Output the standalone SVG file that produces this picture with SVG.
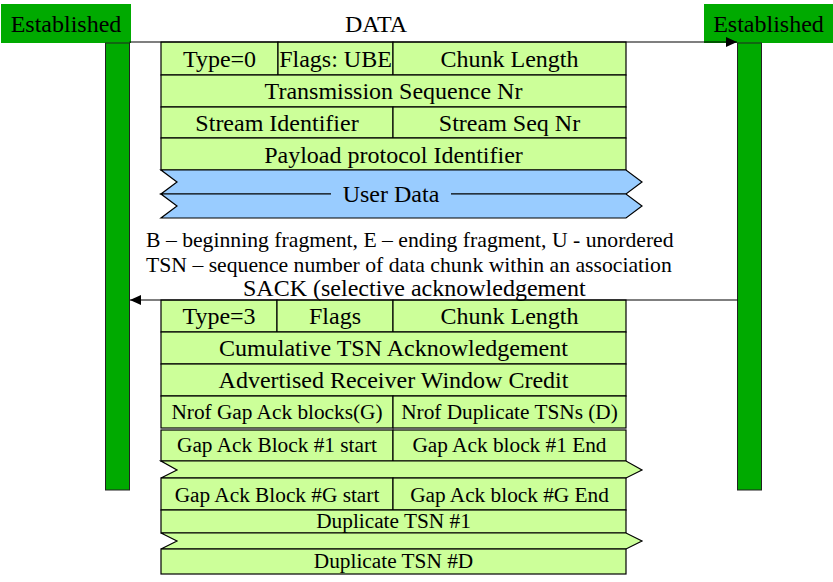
<svg xmlns="http://www.w3.org/2000/svg" width="833" height="582" viewBox="0 0 833 582">
<defs>
<style>
text{font-family:"Liberation Serif","Times New Roman",serif;fill:#000}
.t24{font-size:24px}
.t21{font-size:21.3px}
.tn{font-size:21.7px}
.c{text-anchor:middle}
.est{fill:#00aa00}
.bar{fill:#00aa00;stroke:#222;stroke-width:1}
.g{fill:#ccff99;stroke:#000;stroke-width:1.2}
.b{fill:#99ccff;stroke:#000;stroke-width:1.2}
.ln{stroke:#000;stroke-width:1.2;fill:none}
</style>
<marker id="ah" markerWidth="11" markerHeight="10" refX="11" refY="5" orient="auto" markerUnits="userSpaceOnUse">
<path d="M0,0 L11,5 L0,10 Z" fill="#000"/>
</marker>
</defs>
<rect width="833" height="582" fill="#fff"/>

<g id="left-endpoint">
<rect class="est" x="1" y="4" width="130" height="39"/>
<rect class="bar" x="105.5" y="43" width="24" height="447"/>
<text class="t24 c" x="66" y="32">Established</text>
</g>
<g id="right-endpoint">
<rect class="est" x="704" y="4" width="129" height="39"/>
<rect class="bar" x="737.5" y="43" width="24" height="447"/>
<text class="t24 c" x="768.5" y="32">Established</text>
</g>

<g id="data-chunk">
<rect class="g" x="161" y="42" width="117" height="33"/>
<rect class="g" x="278" y="42" width="115" height="33"/>
<rect class="g" x="393" y="42" width="233" height="33"/>
<rect class="g" x="161" y="75" width="465" height="32"/>
<rect class="g" x="161" y="107" width="232" height="31"/>
<rect class="g" x="393" y="107" width="233" height="31"/>
<rect class="g" x="161" y="138" width="465" height="32"/>
<polygon class="b" points="161,170 626,170 642,182 626,194 161,194 177,182"/>
<polygon class="b" points="161,194 626,194 642,206 626,218 161,218 177,206"/>
<rect x="331" y="188" width="120" height="12" fill="#99ccff"/>
<text class="t24 c" x="219.5" y="66.5">Type=0</text>
<text class="t24 c" x="335.5" y="66.5">Flags: UBE</text>
<text class="t24 c" x="509.5" y="66.5">Chunk Length</text>
<text class="t24 c" x="393.5" y="99">Transmission Sequence Nr</text>
<text class="t24 c" x="277" y="131">Stream Identifier</text>
<text class="t24 c" x="509.5" y="131">Stream Seq Nr</text>
<text class="t24 c" x="393.5" y="163">Payload protocol Identifier</text>
<text class="t24 c" x="391" y="202">User Data</text>
</g>

<g id="notes">
<text class="tn" x="146" y="247">B – beginning fragment, E – ending fragment, U - unordered</text>
<text class="tn" x="146" y="272">TSN – sequence number of data chunk within an association</text>
</g>

<g id="sack-chunk">
<rect class="g" x="161" y="300" width="116" height="32"/>
<rect class="g" x="277" y="300" width="116" height="32"/>
<rect class="g" x="393" y="300" width="233" height="32"/>
<rect class="g" x="161" y="332" width="465" height="32"/>
<rect class="g" x="161" y="364" width="465" height="32"/>
<rect class="g" x="161" y="396" width="232" height="32"/>
<rect class="g" x="393" y="396" width="233" height="32"/>
<rect class="g" x="161" y="430" width="232" height="31"/>
<rect class="g" x="393" y="430" width="233" height="31"/>
<polygon class="g" points="161,461 626,461 642,470 626,478 161,478 177,470"/>
<rect class="g" x="161" y="478" width="232" height="32"/>
<rect class="g" x="393" y="478" width="233" height="32"/>
<rect class="g" x="161" y="510" width="465" height="23"/>
<polygon class="g" points="161,533 626,533 642,541 626,549 161,549 177,541"/>
<rect class="g" x="161" y="549" width="465" height="25"/>
<text class="t24 c" x="219" y="324">Type=3</text>
<text class="t24 c" x="335" y="324">Flags</text>
<text class="t24 c" x="509.5" y="324">Chunk Length</text>
<text class="t24 c" x="393.5" y="356">Cumulative TSN Acknowledgement</text>
<text class="t24 c" x="393.5" y="388">Advertised Receiver Window Credit</text>
<text class="t21 c" x="277" y="419">Nrof Gap Ack blocks(G)</text>
<text class="t21 c" x="509.5" y="419">Nrof Duplicate TSNs (D)</text>
<text class="t21 c" x="277" y="452">Gap Ack Block #1 start</text>
<text class="t21 c" x="509.5" y="452">Gap Ack block #1 End</text>
<text class="t21 c" x="277" y="502">Gap Ack Block #G start</text>
<text class="t21 c" x="509.5" y="502">Gap Ack block #G End</text>
<text class="t21 c" x="393.5" y="528">Duplicate TSN #1</text>
<text class="t21 c" x="393.5" y="568">Duplicate TSN #D</text>
</g>

<g id="connectors">
<line class="ln" x1="129.5" y1="42" x2="737" y2="42" marker-end="url(#ah)"/>
<text class="t24" x="345" y="32">DATA</text>
<line class="ln" x1="737.5" y1="300" x2="130" y2="300" marker-end="url(#ah)"/>
<text class="t24" x="243" y="296">SACK (selective acknowledgement</text>
</g>
</svg>
